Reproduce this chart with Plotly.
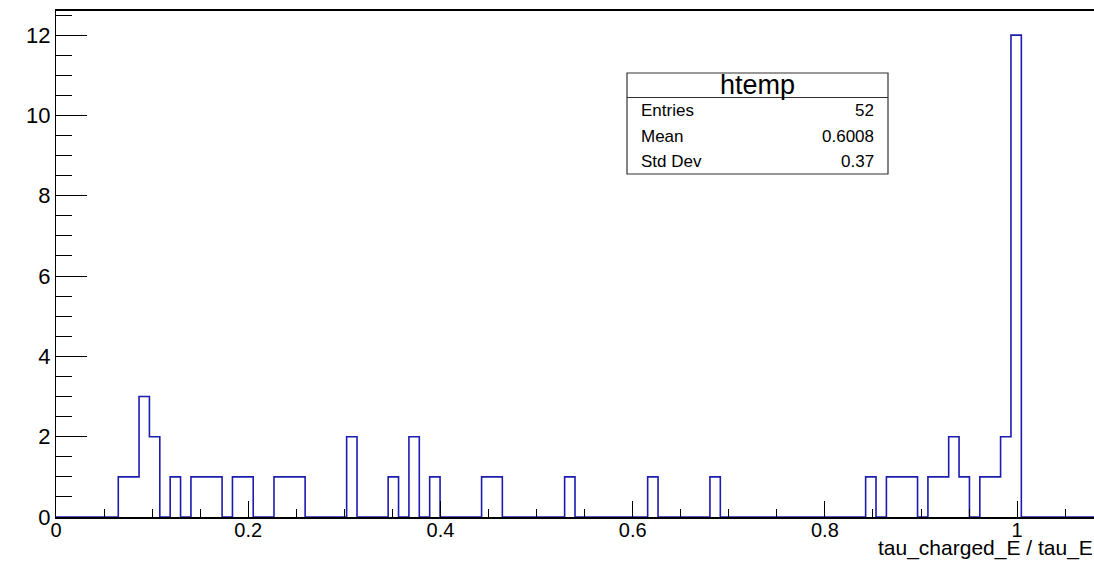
import plotly.graph_objects as go

# ---- data ----
x_min = 0.0
x_max = 1.08
n_bins = 100
counts = [
    0, 0, 0, 0, 0, 0, 1, 1, 3, 2,
    0, 1, 0, 1, 1, 1, 0, 1, 1, 0,
    0, 1, 1, 1, 0, 0, 0, 0, 2, 0,
    0, 0, 1, 0, 2, 0, 1, 0, 0, 0,
    0, 1, 1, 0, 0, 0, 0, 0, 0, 1,
    0, 0, 0, 0, 0, 0, 0, 1, 0, 0,
    0, 0, 0, 1, 0, 0, 0, 0, 0, 0,
    0, 0, 0, 0, 0, 0, 0, 0, 1, 0,
    1, 1, 1, 0, 1, 1, 2, 1, 0, 1,
    1, 2, 12, 0, 0, 0, 0, 0, 0, 0,
]
hist_name = "htemp"
stat_labels = ["Entries", "Mean", "Std Dev"]
stat_values = ["52", "0.6008", "0.37"]
x_title = "tau_charged_E / tau_E"
y_max = 12.6

# ---- build step outline ----
bw = (x_max - x_min) / n_bins
edges = [x_min + i * bw for i in range(n_bins + 1)]
ys = counts + [counts[-1]]

FONT = "Liberation Sans, Arial, Helvetica, sans-serif"
LINE_COLOR = "#1c1cae"

fig = go.Figure()
fig.add_trace(go.Scatter(
    x=edges, y=ys, mode="lines", line_shape="hv",
    line=dict(color=LINE_COLOR, width=1.6),
    hoverinfo="skip", showlegend=False,
))

W, H = 1094, 561
ml, mr, mt, mb = 56, 0, 11, 44
pw, ph = W - ml - mr, H - mt - mb


def px2paper_x(px):
    return (px - ml) / pw


def px2paper_y(py):
    return (H - mb - py) / ph


fig.update_layout(
    width=W, height=H,
    margin=dict(l=ml, r=mr, t=mt, b=mb, pad=0),
    paper_bgcolor="white", plot_bgcolor="white",
    font=dict(family=FONT, color="black"),
    showlegend=False,
    xaxis=dict(
        range=[x_min, x_max], showgrid=False, zeroline=False,
        showline=True, linecolor="black", linewidth=1.6, mirror=True,
        ticks="inside", ticklen=16, tickcolor="black", tickwidth=1,
        tick0=0, dtick=0.2,
        ticklabelstandoff=-6,
        tickfont=dict(size=20, family=FONT, color="black"),
        minor=dict(ticks="inside", ticklen=8, dtick=0.05, tick0=0,
                   tickcolor="black", tickwidth=1, showgrid=False),
        layer="above traces",
    ),
    yaxis=dict(
        range=[0, y_max], showgrid=False, zeroline=False,
        showline=True, linecolor="black", linewidth=1.2,
        ticks="inside", ticklen=31, tickcolor="black", tickwidth=1,
        tick0=0, dtick=2,
        tickfont=dict(size=22, family=FONT, color="black"),
        minor=dict(ticks="inside", ticklen=16, dtick=0.5, tick0=0,
                   tickcolor="black", tickwidth=1, showgrid=False),
        layer="above traces",
    ),
)

# ---- stats box ----
bx0, bx1, by0, by1, bsep = 627, 888, 73, 174, 97.5
fig.add_shape(type="rect", xref="paper", yref="paper",
              x0=px2paper_x(bx0), x1=px2paper_x(bx1),
              y0=px2paper_y(by1), y1=px2paper_y(by0),
              line=dict(color="#333333", width=1.2), fillcolor="white")
fig.add_shape(type="line", xref="paper", yref="paper",
              x0=px2paper_x(bx0), x1=px2paper_x(bx1),
              y0=px2paper_y(bsep), y1=px2paper_y(bsep),
              line=dict(color="#333333", width=1))

annots = []
annots.append(dict(text=hist_name, xref="paper", yref="paper",
                   x=px2paper_x((bx0 + bx1) / 2), y=px2paper_y(85),
                   xanchor="center", yanchor="middle", showarrow=False,
                   font=dict(size=27, family=FONT, color="black")))
row_y = [111, 136, 161.5]
for lab, val, yy in zip(stat_labels, stat_values, row_y):
    annots.append(dict(text=lab, xref="paper", yref="paper",
                       x=px2paper_x(639), y=px2paper_y(yy),
                       xanchor="left", yanchor="middle", showarrow=False,
                       font=dict(size=17, family=FONT, color="black")))
    annots.append(dict(text=val, xref="paper", yref="paper",
                       x=px2paper_x(876), y=px2paper_y(yy),
                       xanchor="right", yanchor="middle", showarrow=False,
                       font=dict(size=17, family=FONT, color="black")))

annots.append(dict(text=x_title, xref="paper", yref="paper",
                   x=1, y=px2paper_y(561), xanchor="right", yanchor="bottom",
                   showarrow=False, borderpad=0,
                   font=dict(size=21, family=FONT, color="black")))
fig.update_layout(annotations=annots)

fig.write_html("out.html")
